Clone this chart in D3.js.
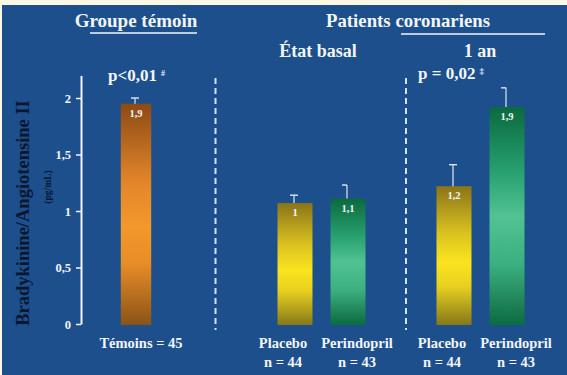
<!DOCTYPE html>
<html><head><meta charset="utf-8">
<script src="https://cdn.jsdelivr.net/npm/d3@7"></script>
<style>
html,body{margin:0;padding:0;background:#fbf8e4;}
svg{display:block;}
text{font-family:"Liberation Serif","Times New Roman",serif;font-weight:bold;}
</style></head>
<body>
<svg id="chart" width="567" height="375"></svg>
<script>
// ---- data ----
const categories = ["Témoins = 45", "Placebo", "Perindopril", "Placebo", "Perindopril"];
const sampleSizes = ["", "n = 44", "n = 43", "n = 44", "n = 43"];
const treatments = ["temoin", "placebo", "perindopril", "placebo", "perindopril"];
const periods = ["Groupe témoin", "État basal", "État basal", "1 an", "1 an"];
const values = [1.95, 1.07, 1.11, 1.22, 1.92];
const errorTops = [2.0, 1.14, 1.23, 1.41, 2.09];
const valueLabels = ["1,9", "1", "1,1", "1,2", "1,9"];
const yTicks = [0, 0.5, 1, 1.5, 2];
const yTickLabels = ["0", "0,5", "1", "1,5", "2"];
const pValues = ["p<0,01", "p = 0,02"];
const pMarks = ["#", "‡"];

const svg = d3.select("#chart");
const W = 567, H = 375;

// background
svg.append("rect").attr("x", 0).attr("y", 0).attr("width", W).attr("height", H).attr("fill", "#fbf8e4");
svg.append("rect").attr("x", 2).attr("y", 5).attr("width", W - 2).attr("height", H - 5).attr("fill", "#1c4f8b");

// gradients
const defs = svg.append("defs");
const grads = {
  temoin: [["0%", "#8c4a14"], ["35%", "#e1852a"], ["55%", "#f3982c"], ["72%", "#e88d28"], ["100%", "#8a5316"]],
  placebo: [["0%", "#8a7418"], ["35%", "#dcc420"], ["55%", "#fae41e"], ["72%", "#e8d020"], ["100%", "#857818"]],
  perindopril: [["0%", "#0b6a3e"], ["30%", "#28a070"], ["50%", "#52c292"], ["72%", "#3cb080"], ["100%", "#0d6a40"]]
};
Object.entries(grads).forEach(([k, stops]) => {
  const g = defs.append("linearGradient").attr("id", "g-" + k).attr("x1", 0).attr("y1", 0).attr("x2", 0).attr("y2", 1);
  stops.forEach(s => g.append("stop").attr("offset", s[0]).attr("stop-color", s[1]));
});

// scales
const slots = [];
categories.forEach((c, i) => {
  slots.push(i);
  if (i === 0) { slots.push("gapA"); slots.push("gapB"); }
  if (i === 2) { slots.push("gapC"); }
});
const x = d3.scalePoint().domain(slots).range([136, 507]);
const step = x.step();
const barW = step * 0.66;
const y = d3.scaleLinear().domain([0, 2.2]).range([324, 75.4]);

const white = "#f2f5fa";

// y axis
const axis = d3.axisLeft(y).tickValues(yTicks).tickFormat((d, i) => yTickLabels[i]).tickSize(5).tickSizeOuter(0).tickPadding(5);
const gAxis = svg.append("g").attr("transform", "translate(81,0)").call(axis);
gAxis.select(".domain").attr("stroke", white).attr("stroke-width", 2);
gAxis.selectAll(".tick line").attr("stroke", white).attr("stroke-width", 1.5);
gAxis.selectAll(".tick text").attr("fill", white).attr("font-size", 12.5).style("font-family", "Liberation Serif").style("font-weight", "bold");

// y axis title
svg.append("text").attr("transform", "translate(29," + 213 + ") rotate(-90)")
  .attr("text-anchor", "middle").attr("fill", "#0b1730").attr("font-size", 18.5)
  .text("Bradykinine/Angiotensine II");
svg.append("text").attr("transform", "translate(51," + 187 + ") rotate(-90)")
  .attr("text-anchor", "middle").attr("fill", "#0b1730").attr("font-size", 9.5)
  .text("(pg/mL)");

// dashed separators
[ (x("gapA") + x("gapB")) / 2, x("gapC") + 5 ].forEach(sx => {
  svg.append("line").attr("x1", sx).attr("x2", sx).attr("y1", 78).attr("y2", 330)
    .attr("stroke", "#d6e4f2").attr("stroke-width", 2).attr("stroke-dasharray", "6,4");
});

// bars
const idx = d3.range(categories.length);
svg.selectAll("rect.bar").data(idx).join("rect").attr("class", "bar")
  .attr("x", i => x(i) - (i === 0 ? barW * 0.87 : barW) / 2)
  .attr("width", i => i === 0 ? barW * 0.87 : barW)
  .attr("y", i => y(values[i]))
  .attr("height", i => y(0) - y(values[i]) + 1)
  .attr("fill", i => "url(#g-" + treatments[i] + ")");

// error bars
idx.forEach(i => {
  const cx = x(i) - 1;
  svg.append("line").attr("x1", cx).attr("x2", cx).attr("y1", y(values[i])).attr("y2", y(errorTops[i]))
    .attr("stroke", "#dfe8f2").attr("stroke-width", 1.2);
  const capL = treatments[i] === "perindopril" ? cx - 5 : cx - 4;
  const capR = treatments[i] === "perindopril" ? cx : cx + 4;
  svg.append("line").attr("x1", capL).attr("x2", capR).attr("y1", y(errorTops[i])).attr("y2", y(errorTops[i]))
    .attr("stroke", "#dfe8f2").attr("stroke-width", 1.4);
});

// value labels
svg.selectAll("text.val").data(idx).join("text").attr("class", "val")
  .attr("x", i => x(i)).attr("y", i => y(values[i]) + 13)
  .attr("text-anchor", "middle").attr("fill", white).attr("font-size", 10.5)
  .text(i => valueLabels[i]);

// category labels (spread outward from the bar centres)
const labelShift = t => t === "placebo" ? -12 : t === "perindopril" ? 9 : 5;
svg.selectAll("text.cat").data(idx).join("text").attr("class", "cat")
  .attr("x", i => x(i) + labelShift(treatments[i])).attr("y", 348)
  .attr("text-anchor", "middle").attr("fill", white).attr("font-size", 14.5)
  .text(i => categories[i]);
svg.selectAll("text.n").data(idx.filter(i => sampleSizes[i])).join("text").attr("class", "n")
  .attr("x", i => x(i) + labelShift(treatments[i])).attr("y", 367)
  .attr("text-anchor", "middle").attr("fill", white).attr("font-size", 14.5)
  .text(i => sampleSizes[i]);

// headers
svg.append("text").attr("x", 136).attr("y", 27).attr("text-anchor", "middle").attr("fill", white).attr("font-size", 19)
  .text(periods[0]);
svg.append("line").attr("x1", 90).attr("x2", 197).attr("y1", 33).attr("y2", 33).attr("stroke", white).attr("stroke-width", 1.5);
svg.append("text").attr("x", 408).attr("y", 27).attr("text-anchor", "middle").attr("fill", white).attr("font-size", 18.8)
  .text("Patients coronariens");
svg.append("line").attr("x1", 401).attr("x2", 545).attr("y1", 34).attr("y2", 34).attr("stroke", white).attr("stroke-width", 1.5);
svg.append("text").attr("x", 318).attr("y", 57).attr("text-anchor", "middle").attr("fill", white).attr("font-size", 18)
  .text(periods[1]);
svg.append("text").attr("x", 480).attr("y", 57).attr("text-anchor", "middle").attr("fill", white).attr("font-size", 18)
  .text(periods[3]);

// p values
const p1 = svg.append("text").attr("x", 108).attr("y", 81).attr("fill", white).attr("font-size", 17);
p1.append("tspan").text(pValues[0]);
p1.append("tspan").attr("font-size", 8).attr("dx", 4).attr("dy", -5).text(pMarks[0]);
const p2 = svg.append("text").attr("x", 418).attr("y", 79).attr("fill", white).attr("font-size", 17);
p2.append("tspan").text(pValues[1]);
p2.append("tspan").attr("font-size", 9).attr("dx", 4).attr("dy", -5).text(pMarks[1]);
</script>
</body></html>
